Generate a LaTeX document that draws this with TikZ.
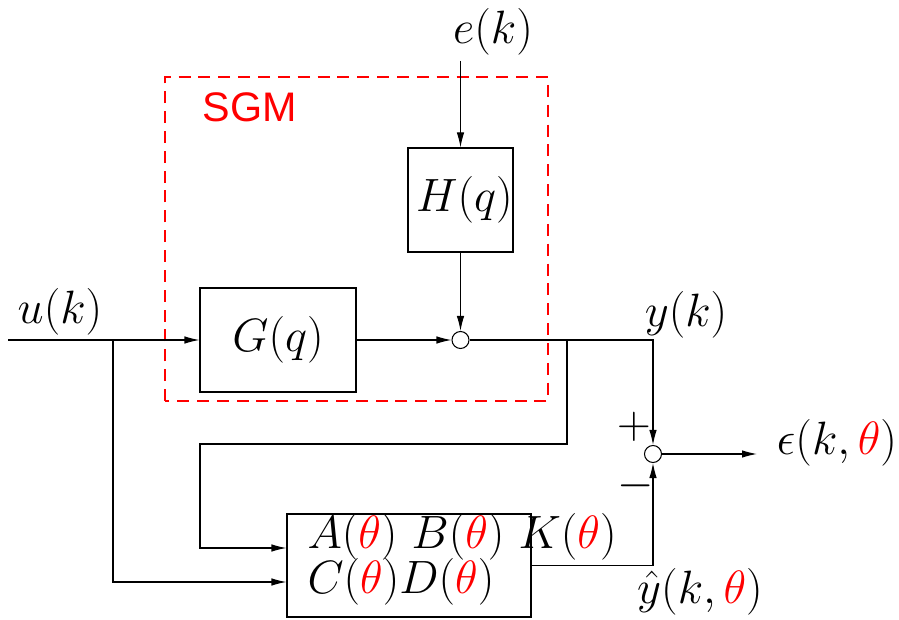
\RequirePackage{fix-cm}
\documentclass[tikz,border=0pt]{standalone}
\usepackage{fontspec}
\newfontfamily\sgmfont{Liberation Sans}
\usetikzlibrary{arrows.meta,positioning,calc}
\definecolor{sgmRed}{RGB}{255,0,0}
\newcommand{\rth}{\textcolor{sgmRed}{\theta}}

\begin{document}
\begin{tikzpicture}[x=1cm,y=1cm,line width=0.6pt,
      blk/.style={draw,minimum width=#1,minimum height=2.08cm,inner sep=0pt,
        font=\fontsize{26.6}{32}\selectfont},
      blk/.default=2cm,
      sumpt/.style={circle,draw,fill=white,minimum size=0.34cm,inner sep=0pt},
      lbl/.style={inner sep=0.1cm,font=\fontsize{26.6}{32}\selectfont},
      arr/.style={-{Latex[length=0.3cm,width=0.15cm]}}
    ]
    \useasboundingbox (0,0) rectangle (17.98,12.38);

    % Le cadre pointillé du SGM est tracé avant les blocs.
    \draw[sgmRed,line width=0.7pt,dash pattern=on 6.8pt off 4.5pt]
      (3.30,4.36) rectangle (10.96,10.84);
    \node[font=\sgmfont\fontsize{23.5}{28}\selectfont,text=sgmRed] (sgm)
      at (5.00,10.24) {SGM};

    \node[blk=2.1cm] (hbox) at (9.21,8.38) {$\,H(q)$};
    \node[blk=3.12cm] (gbox) at (5.56,5.58) {$G(q)$};
    \node[sumpt] (sum1) at (hbox.center |- gbox.center) {};
    \node[sumpt] (sum2) at (13.06,3.30) {};
    \node[blk=4.88cm,minimum height=2.06cm] (model) at (8.18,1.07) {};

    \node[lbl,anchor=base west,inner sep=0pt] (rowAB) at (6.14,1.42)
      {$A(\rth)\ B(\rth)\ K(\rth)$};
    \node[lbl,anchor=base west,inner sep=0pt] (rowCD) at (6.14,0.52)
      {$C(\rth)D(\rth)$};

    \node[lbl] (ek) at (9.86,11.74) {$e(k)$};
    \node[lbl] (uk) at (1.20,6.14) {$u(k)$};
    \node[lbl] (yk) at (13.72,6.08) {$y(k)$};
    \node[lbl] (eps) at (16.74,3.52) {$\epsilon(k,\rth)$};
    \node[lbl] (yhat) at (14.00,0.54) {$\hat{y}(k,\rth)$};
    \node[lbl] (plus) at (12.68,3.84) {$+$};
    \node[lbl] (minus) at (12.72,2.66) {$-$};

    \coordinate (uin) at (0.16,5.58);
    \coordinate (bu) at (2.26,5.58);
    \coordinate (by) at (11.34,5.58);
    \coordinate (loopR) at (11.34,3.50);
    \coordinate (loopL) at (4.00,3.50);
    \coordinate (inA) at ($(model.west)+(0,0.35)$);
    \coordinate (inB) at ($(model.west)+(0,-0.33)$);
    \coordinate (epsend) at (15.14,3.30);

    \draw[arr] (ek.south -| hbox.north) -- (hbox.north);
    \draw[arr] (hbox.south) -- (sum1.north);
    \draw[arr] (uin) -- (gbox.west);
    \draw[arr] (gbox.east) -- (sum1.west);
    \draw[arr] (sum1.east) -| (sum2.north);
    \draw[arr] (sum2.east) -- (epsend);
    \draw[arr] (model.east) -| (sum2.south);
    \draw[arr] (bu) |- (inB);
    \draw[arr] (by) -- (loopR) -- (loopL) |- (inA);
  \end{tikzpicture}
\end{document}
